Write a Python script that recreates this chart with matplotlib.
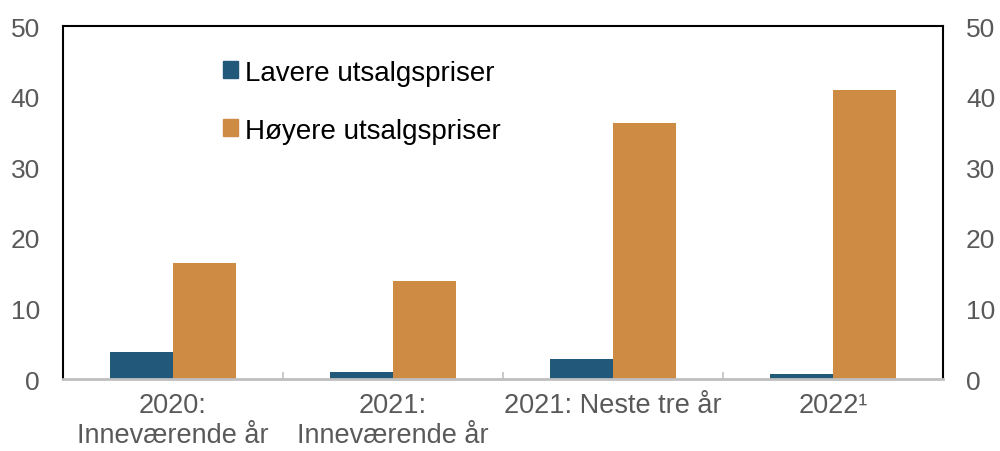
import numpy as np
import matplotlib.pyplot as plt
from matplotlib.patches import Patch

plt.rcParams['font.family'] = ['Liberation Sans', 'DejaVu Sans']

categories = ['2020:\nInneværende år', '2021:\nInneværende år', '2021: Neste tre år', '2022¹']
lavere = [3.8, 1.0, 2.8, 0.7]
hoyere = [16.4, 13.9, 36.3, 40.9]

blue = '#22597a'
orange = '#ce8b43'
grey = '#595959'

fig = plt.figure(figsize=(10, 4.52), dpi=100)
ax = fig.add_axes([0.063, 0.159, 0.880, 0.781])

x = np.arange(len(categories))
w = 0.286
ax.bar(x - w / 2, lavere, w, color=blue)
ax.bar(x + w / 2, hoyere, w, color=orange)

ax.set_xlim(-0.5, len(categories) - 0.5)
ax.set_ylim(0, 50)
ax.set_yticks(range(0, 51, 10))
ax.tick_params(axis='y', length=0, labelsize=19, labelcolor=grey, pad=16.5,
               labelright=True, right=False)
ax.set_xticks(x)
ax.set_xticklabels(categories)
ax.tick_params(axis='x', length=0, labelsize=19.5, labelcolor=grey, pad=9)
for lbl in ax.get_xticklabels():
    lbl.set_linespacing(1.2)

# category boundary ticks on the x axis
ax.set_xticks(np.arange(-0.5, len(categories), 1), minor=True)
ax.tick_params(axis='x', which='minor', direction='in', length=5, color='#c0c0c0', width=1.2)

for s in ['left', 'top', 'right']:
    ax.spines[s].set_color('black')
    ax.spines[s].set_linewidth(1.5)
ax.spines['bottom'].set_color('#bfbfbf')
ax.spines['bottom'].set_linewidth(2)

handles = [Patch(color=blue, label='Lavere utsalgspriser'),
           Patch(color=orange, label='Høyere utsalgspriser')]
ax.legend(handles=handles, loc='upper left', bbox_to_anchor=(0.182, 0.905), frameon=False,
          fontsize=20, handlelength=0.55, handleheight=0.55, handletextpad=0.25,
          labelspacing=1.15, borderpad=0, borderaxespad=0)

fig.savefig('out.png', dpi=100)
